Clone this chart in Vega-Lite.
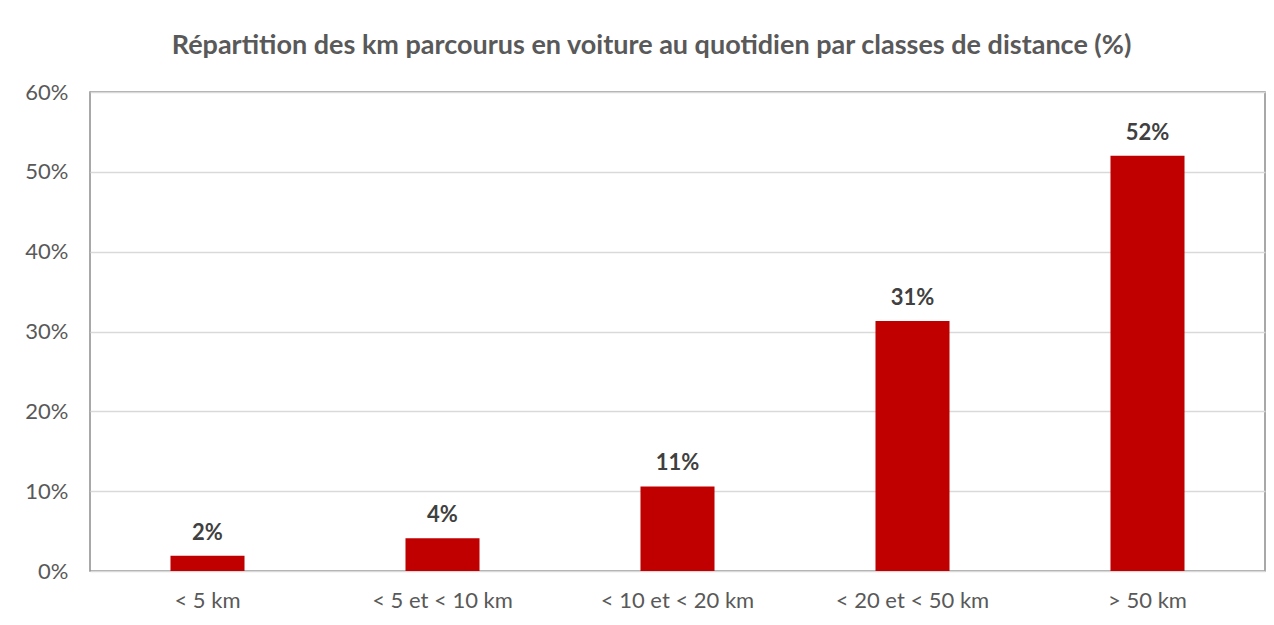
{
  "$schema": "https://vega.github.io/schema/vega-lite/v6.json",
  "autosize": "none",
  "width": 1175,
  "height": 479,
  "padding": {"left": 90, "top": 92, "right": 9, "bottom": 54},
  "background": "white",
  "title": {
    "text": "Répartition des km parcourus en voiture au quotidien par classes de distance (%)",
    "font": "Lato",
    "fontSize": 27,
    "fontWeight": "bold",
    "color": "#595959",
    "anchor": "middle",
    "offset": 21,
    "dx": -26
  },
  "config": {
    "view": {"stroke": "#8c8c8c", "strokeWidth": 1.5},
    "font": "Lato"
  },
  "data": {
    "values": [
      {"classe": "< 5 km", "part": 0.019},
      {"classe": "< 5 et < 10 km", "part": 0.041},
      {"classe": "< 10 et < 20 km", "part": 0.106},
      {"classe": "< 20 et < 50 km", "part": 0.313},
      {"classe": "> 50 km", "part": 0.52}
    ]
  },
  "encoding": {
    "x": {
      "field": "classe",
      "type": "nominal",
      "sort": null,
      "scale": {"paddingInner": 0.685, "paddingOuter": 0.3425},
      "axis": {
        "title": null,
        "labelAngle": 0,
        "labelFont": "Lato",
        "labelFontSize": 22,
        "labelColor": "#595959",
        "labelPadding": 19,
        "ticks": false,
        "domain": false
      }
    },
    "y": {
      "field": "part",
      "type": "quantitative",
      "scale": {"domain": [0, 0.6], "nice": false},
      "axis": {
        "title": null,
        "format": ".0%",
        "values": [0, 0.1, 0.2, 0.3, 0.4, 0.5, 0.6],
        "labelFont": "Lato",
        "labelFontSize": 22,
        "labelColor": "#595959",
        "labelPadding": 22,
        "ticks": false,
        "domain": false,
        "gridColor": "#d9d9d9",
        "gridWidth": 1.5
      }
    }
  },
  "layer": [
    {"mark": {"type": "bar", "color": "#c00000"}},
    {
      "mark": {"type": "text", "baseline": "bottom", "dy": -11, "font": "Lato", "fontSize": 22, "fontWeight": "bold", "color": "#404040"},
      "encoding": {"text": {"field": "part", "type": "quantitative", "format": ".0%"}}
    }
  ]
}
